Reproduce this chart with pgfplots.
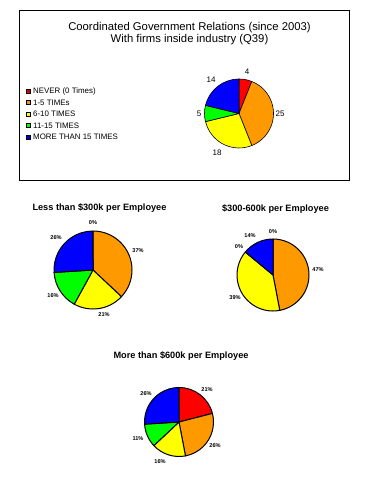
\documentclass[border=0pt]{standalone}
\usepackage{pgfplots}
\usepackage{pgfplotstable}
\pgfplotsset{compat=1.18}
\usepackage{fontspec}
\setmainfont{Liberation Sans}

\definecolor{pRed}{HTML}{FF0000}
\definecolor{pOrange}{HTML}{FF9900}
\definecolor{pYellow}{HTML}{FFFF00}
\definecolor{pGreen}{HTML}{00FF00}
\definecolor{pBlue}{HTML}{0000FF}

% Top chart: counts
\pgfplotstableread{
cat value col
Never 4 pRed
1-5 25 pOrange
6-10 18 pYellow
11-15 5 pGreen
More15 14 pBlue
}\tblAll
% Less than $300k per employee (percent)
\pgfplotstableread{
cat value col
Never 0 pRed
1-5 37 pOrange
6-10 21 pYellow
11-15 16 pGreen
More15 26 pBlue
}\tblLow
% $300-600k per employee
\pgfplotstableread{
cat value col
Never 0 pRed
1-5 47 pOrange
6-10 39 pYellow
11-15 0 pGreen
More15 14 pBlue
}\tblMid
% More than $600k per employee
\pgfplotstableread{
cat value col
Never 21 pRed
1-5 26 pOrange
6-10 16 pYellow
11-15 11 pGreen
More15 26 pBlue
}\tblHigh

% #1 table, #2 cx, #3 cy, #4 radius, #5 line width
\newcommand\drawpie[5]{%
  \def\pietot{0}%
  \pgfplotsforeachungrouped \pii in {0,1,2,3,4}{%
    \pgfplotstablegetelem{\pii}{value}\of{#1}%
    \pgfmathsetmacro\pietot{\pietot+\pgfplotsretval}}%
  \def\pieaone{90}%
  \pgfplotsforeachungrouped \pii in {0,1,2,3,4}{%
    \pgfplotstablegetelem{\pii}{value}\of{#1}\edef\pieval{\pgfplotsretval}%
    \pgfplotstablegetelem{\pii}{col}\of{#1}\edef\piecol{\pgfplotsretval}%
    \pgfmathsetmacro\pieatwo{\pieaone-360*(\pieval/\pietot)}%
    \pgfmathtruncatemacro\piepos{\pieval>0}%
    \ifnum\piepos=1
      \filldraw[fill=\piecol, draw=black, line width=#5, line join=round]
        (axis cs:#2,#3) -- ++(\pieaone:#4pt)
        arc[start angle=\pieaone, end angle=\pieatwo, radius=#4pt] -- cycle;
    \fi
    \let\pieaone\pieatwo}%
}

\begin{document}
\begin{tikzpicture}
\begin{axis}[
  x=1pt, y=1pt, y dir=reverse,
  xmin=0, xmax=375, ymin=0, ymax=478,
  hide axis, clip=false, scale only axis,
]
\pgfplotsextra{%
  \fill[white] (axis cs:0,0) rectangle (axis cs:375,478);
  \draw[black, line width=0.8pt] (axis cs:19,10) rectangle (axis cs:349,180);
  % top chart
  \node[font=\fontsize{11.3}{12}\selectfont] at (axis cs:189.5,28) {Coordinated Government Relations (since 2003)};
  \node[font=\fontsize{11.3}{12}\selectfont] at (axis cs:189.5,40) {With firms inside industry (Q39)};
  \drawpie{\tblAll}{239}{113.5}{34.5}{0.6pt}
  \node[font=\fontsize{8}{9}\selectfont] at (axis cs:247,72) {4};
  \node[font=\fontsize{8}{9}\selectfont] at (axis cs:280,114) {25};
  \node[font=\fontsize{8}{9}\selectfont] at (axis cs:217,153) {18};
  \node[font=\fontsize{8}{9}\selectfont] at (axis cs:199,114) {5};
  \node[font=\fontsize{8}{9}\selectfont] at (axis cs:211,80) {14};
  % legend
  \filldraw[fill=pRed!85!black, draw=black, line width=0.4pt] (axis cs:26,89) rectangle (axis cs:30,93);
  \node[anchor=west, inner sep=0pt, font=\fontsize{7.9}{9}\selectfont] at (axis cs:33,91) {NEVER (0 Times)};
  \filldraw[fill=pOrange!85!brown, draw=black, line width=0.4pt] (axis cs:26,100.5) rectangle (axis cs:30,104.5);
  \node[anchor=west, inner sep=0pt, font=\fontsize{7.9}{9}\selectfont] at (axis cs:33,102.5) {1-5 TIMEs};
  \filldraw[fill=pYellow, draw=black, line width=0.4pt] (axis cs:26,112) rectangle (axis cs:30,116);
  \node[anchor=west, inner sep=0pt, font=\fontsize{7.9}{9}\selectfont] at (axis cs:33,114) {6-10 TIMES};
  \filldraw[fill=pGreen, draw=black, line width=0.4pt] (axis cs:26,123.5) rectangle (axis cs:30,127.5);
  \node[anchor=west, inner sep=0pt, font=\fontsize{7.9}{9}\selectfont] at (axis cs:33,125.5) {11-15 TIMES};
  \filldraw[fill=pBlue!80!black, draw=black, line width=0.4pt] (axis cs:26,135) rectangle (axis cs:30,139);
  \node[anchor=west, inner sep=0pt, font=\fontsize{7.9}{9}\selectfont] at (axis cs:33,137) {MORE THAN 15 TIMES};
  % Less than 300k
  \node[font=\bfseries\fontsize{9.2}{10}\selectfont] at (axis cs:99.5,208) {Less than \$300k per Employee};
  \drawpie{\tblLow}{93}{270}{39}{1pt}
  \node[font=\bfseries\fontsize{5.6}{6}\selectfont] at (axis cs:93,223) {0\%};
  \node[font=\bfseries\fontsize{5.6}{6}\selectfont] at (axis cs:138,251) {37\%};
  \node[font=\bfseries\fontsize{5.6}{6}\selectfont] at (axis cs:104,315) {21\%};
  \node[font=\bfseries\fontsize{5.6}{6}\selectfont] at (axis cs:53,296) {16\%};
  \node[font=\bfseries\fontsize{5.6}{6}\selectfont] at (axis cs:56,238) {26\%};
  % 300-600k
  \node[font=\bfseries\fontsize{9.2}{10}\selectfont] at (axis cs:275.5,209) {\$300-600k per Employee};
  \drawpie{\tblMid}{273}{275}{36}{1pt}
  \node[font=\bfseries\fontsize{5.6}{6}\selectfont] at (axis cs:273,232) {0\%};
  \node[font=\bfseries\fontsize{5.6}{6}\selectfont] at (axis cs:318,270) {47\%};
  \node[font=\bfseries\fontsize{5.6}{6}\selectfont] at (axis cs:235,298) {39\%};
  \node[font=\bfseries\fontsize{5.6}{6}\selectfont] at (axis cs:239,247) {0\%};
  \node[font=\bfseries\fontsize{5.6}{6}\selectfont] at (axis cs:250,236) {14\%};
  % more than 600k
  \node[font=\bfseries\fontsize{9.2}{10}\selectfont] at (axis cs:181,356) {More than \$600k per Employee};
  \drawpie{\tblHigh}{179}{422}{34.5}{1pt}
  \node[font=\bfseries\fontsize{5.6}{6}\selectfont] at (axis cs:207,390) {21\%};
  \node[font=\bfseries\fontsize{5.6}{6}\selectfont] at (axis cs:215,446) {26\%};
  \node[font=\bfseries\fontsize{5.6}{6}\selectfont] at (axis cs:160,462) {16\%};
  \node[font=\bfseries\fontsize{5.6}{6}\selectfont] at (axis cs:138,439) {11\%};
  \node[font=\bfseries\fontsize{5.6}{6}\selectfont] at (axis cs:146,394) {26\%};
}
\end{axis}
\end{tikzpicture}
\end{document}
